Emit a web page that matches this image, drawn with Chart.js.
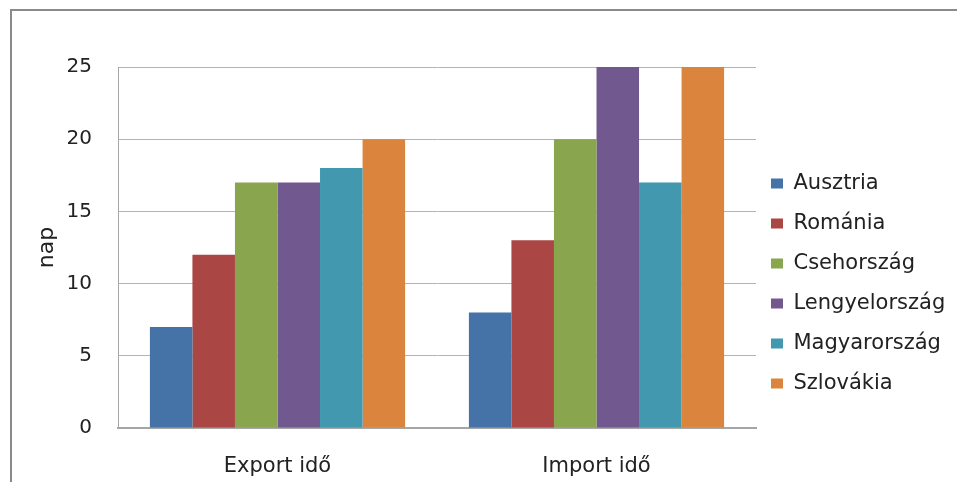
<!DOCTYPE html>
<html>
<head>
<meta charset="utf-8">
<script src="https://cdn.jsdelivr.net/npm/chart.js@4.4.0/dist/chart.umd.min.js"></script>
<style>
  html, body { margin: 0; padding: 0; background: #fff; overflow: hidden; }
  #wrap { position: relative; width: 957px; height: 482px; }
  #frame {
    position: absolute; left: 10px; top: 9px; width: 1000px; height: 600px;
    border-left: 2px solid #8a8a8a; border-top: 2px solid #8a8a8a;
  }
  canvas { position: absolute; left: 0; top: 0; }
</style>
</head>
<body>
<div id="wrap">
  <div id="frame"></div>
  <canvas id="barChart" width="957" height="482"></canvas>
</div>
<script>
const categories = ['Export idő', 'Import idő'];
const countries = ['Ausztria', 'Románia', 'Csehország', 'Lengyelország', 'Magyarország', 'Szlovákia'];
const ausztria = [7, 8];
const romania = [12, 13];
const csehorszag = [17, 20];
const lengyelorszag = [17, 25];
const magyarorszag = [18, 17];
const szlovakia = [20, 25];
const yTicks = [0, 5, 10, 15, 20, 25];

const seriesValues = [ausztria, romania, csehorszag, lengyelorszag, magyarorszag, szlovakia];
const colors = [
  '#4572A7', // Ausztria
  '#AA4643', // Románia
  '#89A54E', // Csehország
  '#71588F', // Lengyelország
  '#4198AF', // Magyarország
  '#DB843D', // Szlovákia
];

const font = 'DejaVu Sans';
const ctx = document.getElementById('barChart').getContext('2d');

// nudge the legend a little lower and left, like in the original
const legendShift = {
  id: 'legendShift',
  afterLayout(chart) {
    chart.legend.top += 9;
    chart.legend.bottom += 9;
    chart.legend.left -= 4;
    chart.legend.right -= 4;
  }
};

new Chart(ctx, {
  type: 'bar',
  data: {
    labels: categories,
    datasets: countries.map((name, i) => ({
      label: name,
      data: seriesValues[i],
      backgroundColor: colors[i],
      borderWidth: 0,
      categoryPercentage: 0.8,
      barPercentage: 1.0,
    }))
  },
  options: {
    responsive: false,
    animation: false,
    layout: { padding: { left: 34, top: 67, right: 0, bottom: 0 } },
    plugins: {
      tooltip: { enabled: false },
      legend: {
        position: 'right',
        maxWidth: 201,
        labels: {
          color: '#222',
          font: { family: font, size: 21 },
          boxWidth: 12,
          boxHeight: 10,
          padding: 19,
        }
      }
    },
    scales: {
      x: {
        grid: { display: false },
        border: { color: '#a6a6a6', width: 2 },
        ticks: { color: '#222', font: { family: font, size: 21 }, padding: 18 },
        afterFit: scale => { scale.height = 54; }
      },
      y: {
        min: 0,
        max: 25,
        afterBuildTicks: scale => { scale.ticks = yTicks.map(v => ({ value: v })); },
        grid: { color: '#b4b4b4', drawTicks: false },
        border: { color: '#a6a6a6' },
        ticks: { color: '#222', font: { family: font, size: 20 }, padding: 26 },
        title: { display: true, text: 'nap', color: '#222', font: { family: font, size: 22 }, padding: 0 },
        afterFit: scale => { scale.width = 84; }
      }
    }
  },
  plugins: [legendShift]
});
</script>
</body>
</html>
